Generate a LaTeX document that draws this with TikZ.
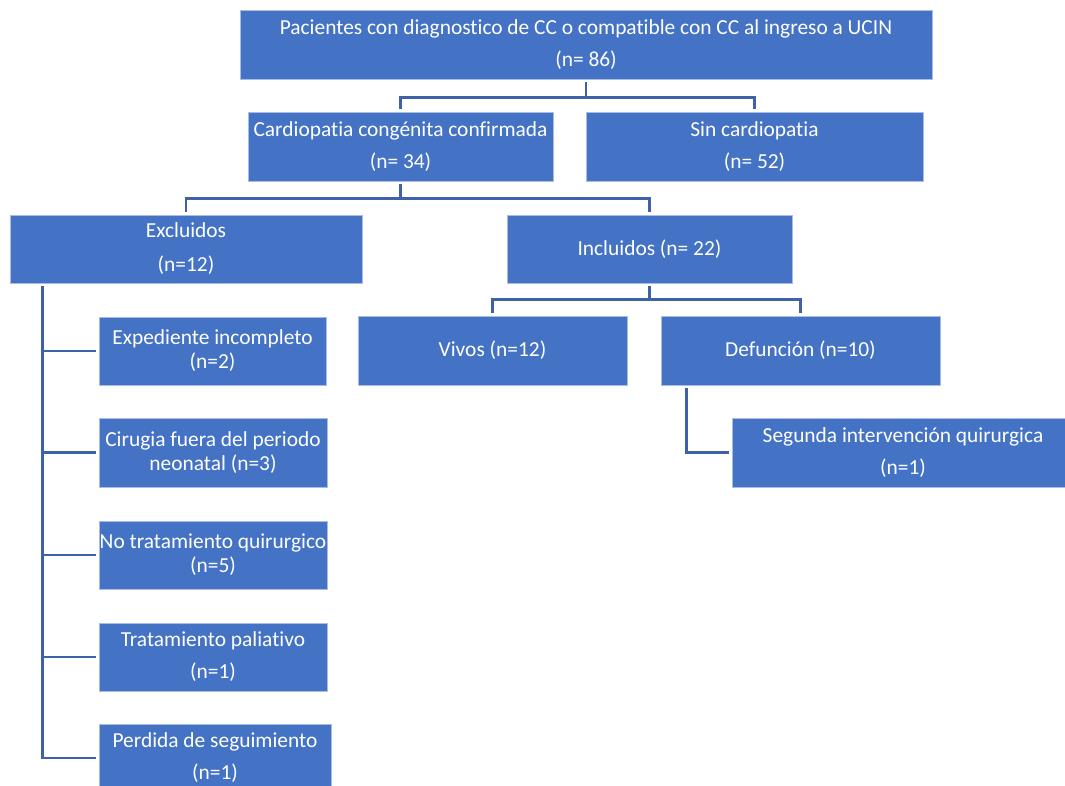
\documentclass[tikz,border=0pt]{standalone}
\usepackage{fontspec}
\setmainfont{Carlito}[Ligatures={NoCommon}]
\definecolor{boxblue}{HTML}{4472C4}
\definecolor{boxedge}{HTML}{A9BCE3}
\definecolor{linkblue}{RGB}{62,98,170}
\tikzset{
  fbox/.style={draw=boxedge, line width=0.8pt, fill=boxblue, text=white, inner sep=0pt,
    align=center, font=\fontsize{21.4}{32}\selectfont},
  tightbox/.style={fbox, font=\fontsize{21.4}{24}\selectfont},
  conn/.style={draw=linkblue, line width=2.4pt, shorten <=3pt, shorten >=3pt}
}
\begin{document}
\begin{tikzpicture}[x=1pt,y=-1pt]
\clip (0,0) rectangle (1065,786);
\fill[white] (0,0) rectangle (1065,786);
% row 1
\node[fbox, minimum width=692, minimum height=69] (top) at (586,44.5)
  {Pacientes con diagnostico de CC o compatible con CC al ingreso a UCIN\\(n= 86)};
% row 2
\node[fbox, minimum width=305, minimum height=69] (cc) at (400.5,146.5)
  {Cardiopatia congénita confirmada\\(n= 34)};
\node[fbox, minimum width=337, minimum height=69] (sin) at (754.5,146.5)
  {Sin cardiopatia\\(n= 52)};
% row 3
\node[fbox, font=\fontsize{21.4}{34}\selectfont, minimum width=352, minimum height=68] (excl) at (186,249)
  {Excluidos\\(n=12)};
\node[fbox, minimum width=285, minimum height=68] (incl) at (649.5,249)
  {Incluidos (n= 22)};
% row 4
\node[fbox, minimum width=269, minimum height=69] (vivos) at (492.5,350.5)
  {Vivos (n=12)};
\node[fbox, minimum width=279, minimum height=69] (def) at (800.5,350.5)
  {Defunción (n=10)};
% second intervention
\node[fbox, minimum width=342, minimum height=69] (seg) at (903,452.5)
  {Segunda intervención quirurgica\\(n=1)};
% excluded reasons
\node[tightbox, minimum width=227, minimum height=68] (exp) at (212.5,351)
  {Expediente incompleto\\(n=2)};
\node[tightbox, minimum width=228, minimum height=69] (cir) at (213,452.5)
  {Cirugia fuera del periodo\\neonatal (n=3)};
\node[tightbox, minimum width=228, minimum height=68] (notr) at (213,555)
  {No tratamiento quirurgico\\(n=5)};
\node[fbox, minimum width=228, minimum height=68] (pal) at (213,657)
  {Tratamiento paliativo\\(n=1)};
\node[fbox, minimum width=232, minimum height=68] (perd) at (215,758)
  {Perdida de seguimiento\\(n=1)};
% connectors
\draw[conn] (top.south) -- ++(0,18) -| (cc.north);
\draw[conn] (top.south) -- ++(0,18) -| (sin.north);
\draw[conn] (cc.south) -- ++(0,17) -| (excl.north);
\draw[conn] (cc.south) -- ++(0,17) -| (incl.north);
\draw[conn] (incl.south) -- ++(0,16) -| (vivos.north);
\draw[conn] (incl.south) -- ++(0,16) -| (def.north);
\draw[conn] ([xshift=26]def.south west) |- (seg.west);
\draw[conn] ([xshift=33]excl.south west) |- (exp.west);
\draw[conn] ([xshift=33]excl.south west) |- (cir.west);
\draw[conn] ([xshift=33]excl.south west) |- (notr.west);
\draw[conn] ([xshift=33]excl.south west) |- (pal.west);
\draw[conn] ([xshift=33]excl.south west) |- (perd.west);
\end{tikzpicture}
\end{document}
